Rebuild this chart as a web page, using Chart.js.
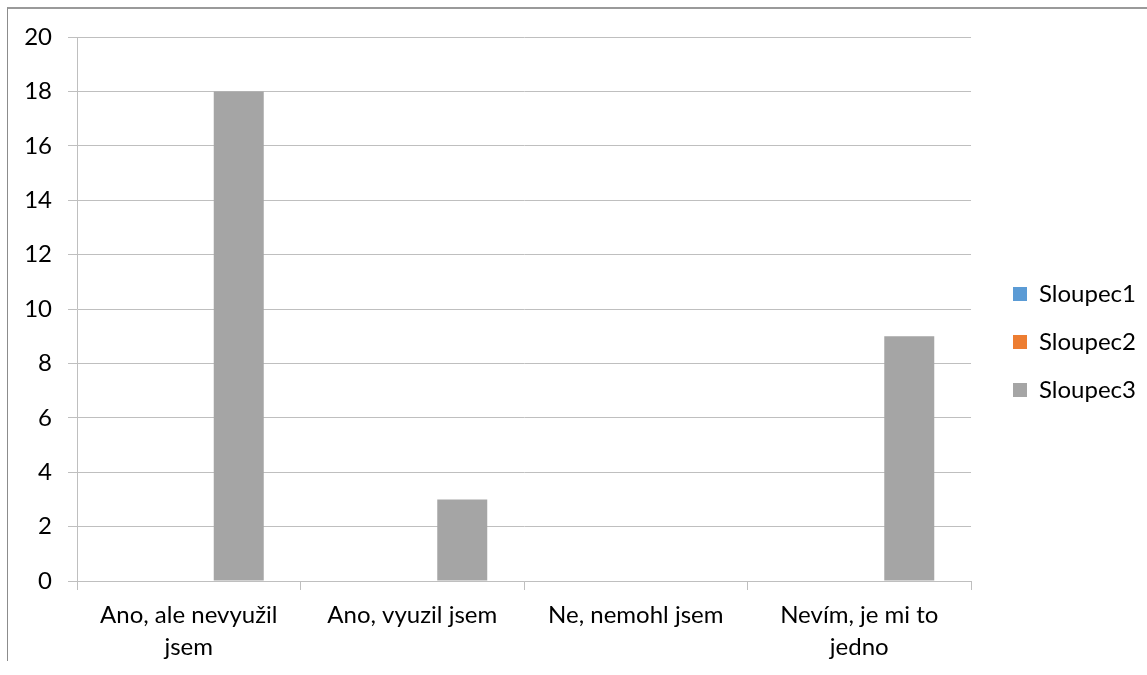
<!DOCTYPE html>
<html>
<head>
<meta charset="utf-8">
<script src="https://cdn.jsdelivr.net/npm/chart.js@4/dist/chart.umd.min.js"></script>
<style>
    html, body { margin: 0; padding: 0; background: #fff; }
    #wrap { position: relative; width: 1147px; height: 675px; overflow: hidden; }
    #frame { position: absolute; left: 7px; top: 7px; width: 1200px; height: 652px;
             border-left: 1px solid #8c8c8c; border-top: 2px solid #9a9a9a; pointer-events: none; }
</style>
</head>
<body>
<div id="wrap">
    <canvas id="graf" width="1147" height="675"></canvas>
    <div id="frame"></div>
</div>
<script>
const categories = [
    ['Ano, ale nevyužil', 'jsem'],
    'Ano, vyuzil jsem',
    'Ne, nemohl jsem',
    ['Nevím, je mi to', 'jedno']
];
const sloupec1 = [0, 0, 0, 0];
const sloupec2 = [0, 0, 0, 0];
const sloupec3 = [18, 3, 0, 9];

const fontFamily = 'Lato, "Open Sans", sans-serif';
const gridColor = '#bfbfbf';
const legendPadding = 24;

// posun legendy, aby mezera od grafu odpovidala predloze
const legendShift = {
    id: 'legendShift',
    afterLayout(chart) {
        const lg = chart.legend;
        const dx = (chart.chartArea.right + 42 - legendPadding) - lg.left;
        lg.left += dx;
        lg.right += dx;
        lg.top -= 14;
        lg.bottom -= 14;
    }
};

function drawChart() {
    const ctx = document.getElementById('graf');
    new Chart(ctx, {
        type: 'bar',
        data: {
            labels: categories,
            datasets: [
                {label: 'Sloupec1', data: sloupec1, backgroundColor: '#5b9bd5'},
                {label: 'Sloupec2', data: sloupec2, backgroundColor: '#ed7d31'},
                {label: 'Sloupec3', data: sloupec3, backgroundColor: '#a5a5a5'}
            ]
        },
        options: {
            responsive: false,
            animation: false,
            devicePixelRatio: 1,
            layout: {padding: {top: 37, left: 0, right: 19, bottom: 0}},
            datasets: {
                bar: {categoryPercentage: 0.671, barPercentage: 1.0}
            },
            plugins: {
                tooltip: {enabled: false},
                legend: {
                    position: 'right',
                    labels: {
                        color: '#000',
                        font: {family: fontFamily, size: 24},
                        boxWidth: 14,
                        boxHeight: 14,
                        padding: legendPadding
                    }
                }
            },
            scales: {
                x: {
                    offset: true,
                    afterFit: scale => { scale.height = 94; },
                    grid: {
                        offset: true,
                        drawOnChartArea: false,
                        drawTicks: true,
                        tickLength: 9,
                        color: gridColor
                    },
                    border: {color: gridColor},
                    ticks: {
                        color: '#000',
                        font: {family: fontFamily, size: 24, lineHeight: 1.3},
                        maxRotation: 0,
                        padding: 10
                    }
                },
                y: {
                    min: 0,
                    max: 20,
                    afterFit: scale => { scale.width = 77; },
                    grid: {
                        color: gridColor,
                        tickLength: 9
                    },
                    border: {color: gridColor},
                    ticks: {
                        stepSize: 2,
                        color: '#000',
                        font: {family: fontFamily, size: 24},
                        padding: 16
                    }
                }
            }
        },
        plugins: [legendShift]
    });
}

window.addEventListener('load', evt => drawChart());
</script>
</body>
</html>
